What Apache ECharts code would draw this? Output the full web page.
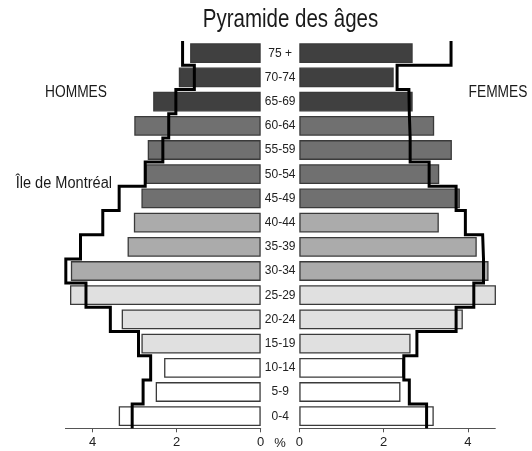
<!DOCTYPE html>
<html><head><meta charset="utf-8">
<script src="https://cdn.jsdelivr.net/npm/echarts@6/dist/echarts.min.js"></script>
<style>html,body{margin:0;padding:0;background:#fff}#c{width:532px;height:451px}</style>
</head><body><div id="c"></div>
<script>
const categories = ['0-4','5-9','10-14','15-19','20-24','25-29','30-34','35-39','40-44','45-49','50-54','55-59','60-64','65-69','70-74','75 +'];
const hommes = [3.38,2.50,2.30,2.84,3.31,4.54,4.52,3.17,3.02,2.84,2.74,2.69,3.01,2.56,1.95,1.68];
const femmes = [3.19,2.40,2.47,2.64,3.88,4.67,4.49,4.21,3.31,3.81,3.32,3.62,3.20,2.69,2.24,2.69];
const hommesMtl = [3.06,2.80,2.62,2.91,3.58,4.16,4.64,4.29,3.76,3.37,2.75,2.33,2.19,2.02,1.58,1.86];
const femmesMtl = [3.02,2.61,2.48,2.79,3.72,4.14,4.37,4.35,3.94,3.72,3.08,2.63,2.61,2.60,2.32,3.60];
const xTicks = [0,2,4];

const FONT = '"Liberation Sans",Arial,sans-serif';
const groupColors = ['#ffffff','#e0e0e0','#ababab','#707070','#404040'];
function groupIdx(i){ if(i<3)return 0; if(i<6)return 1; if(i<9)return 2; if(i<13)return 3; return 4; }

function barData(arr){ return arr.map((v,i)=>({value:v,itemStyle:{color:groupColors[groupIdx(i)]}})); }
function stepData(arr){ const d=[]; arr.forEach((v,i)=>{ d.push([v,i]); d.push([v,i+1]); }); return d; }

const XMAX = 4.65;
const gridTop = 41.1, gridH = 387.2;
const chart = echarts.init(document.getElementById('c'), null, {renderer:'canvas'});
const xAxisCommon = {
  type:'value', min:0, max:XMAX, interval:2,
  splitLine:{show:false},
  axisLine:{show:true,lineStyle:{color:'#555',width:1}},
  axisTick:{show:true,length:4,lineStyle:{color:'#555'},customValues:xTicks},
  axisLabel:{fontFamily:FONT,fontSize:13,color:'#222',margin:8,customValues:xTicks}
};
function narrowText(text,x,y,size,align,sx){
  return {type:'text',x:x,y:y,scaleX:sx,scaleY:1,
    style:{text:text,fontFamily:FONT,fontSize:size,fill:'#1a1a1a',align:align,verticalAlign:'middle'}};
}
chart.setOption({
  animation:false,
  grid:[
    {left:65.4, width:195.3, top:gridTop, height:gridH},
    {left:299.3, width:196, top:gridTop, height:gridH}
  ],
  xAxis:[
    Object.assign({gridIndex:0, inverse:true}, xAxisCommon),
    Object.assign({gridIndex:1}, xAxisCommon)
  ],
  yAxis:[
    {type:'category',gridIndex:0,data:categories,position:'right',
     axisLine:{show:false},axisTick:{show:false},
     axisLabel:{align:'center',margin:19.5,fontFamily:FONT,fontSize:12,color:'#222'}},
    {type:'category',gridIndex:1,data:categories,show:false},
    {type:'value',gridIndex:0,min:0,max:16,show:false},
    {type:'value',gridIndex:1,min:0,max:16,show:false}
  ],
  series:[
    {type:'bar',xAxisIndex:0,yAxisIndex:0,data:barData(hommes),barCategoryGap:'18%',
     itemStyle:{borderColor:'#3a3a3a',borderWidth:1.3}},
    {type:'bar',xAxisIndex:1,yAxisIndex:1,data:barData(femmes),barCategoryGap:'18%',
     itemStyle:{borderColor:'#3a3a3a',borderWidth:1.3}},
    {type:'line',xAxisIndex:0,yAxisIndex:2,data:stepData(hommesMtl),showSymbol:false,symbol:'none',z:5,
     lineStyle:{color:'#000',width:3,join:'miter',cap:'butt'}},
    {type:'line',xAxisIndex:1,yAxisIndex:3,data:stepData(femmesMtl),showSymbol:false,symbol:'none',z:5,
     lineStyle:{color:'#000',width:3,join:'miter',cap:'butt'}}
  ],
  graphic:[
    narrowText('Pyramide des âges',290.5,20.5,25,'center',0.82),
    narrowText('HOMMES',76,92.5,16,'center',0.86),
    narrowText('FEMMES',498,92.5,16,'center',0.86),
    narrowText('Île de Montréal',112,184,16,'right',0.91),
    {type:'text',x:280,y:443,style:{text:'%',fontFamily:FONT,fontSize:13,fill:'#222',align:'center',verticalAlign:'middle'}}
  ]
});
</script></body></html>
